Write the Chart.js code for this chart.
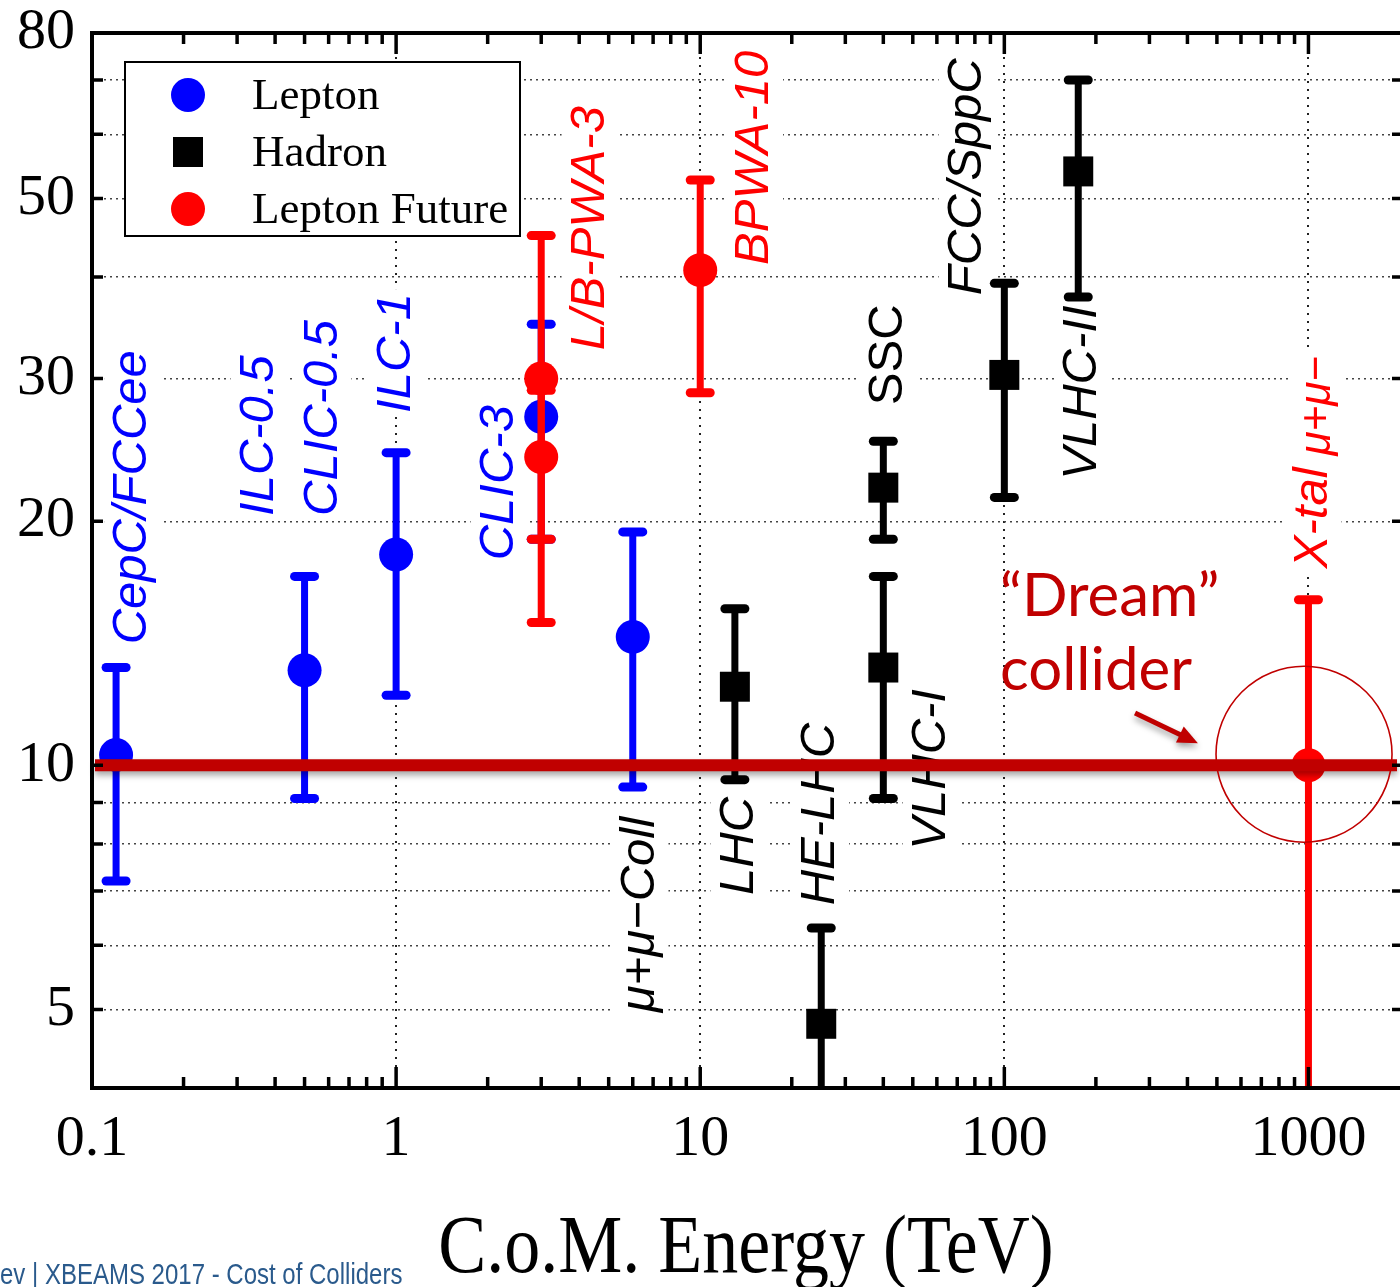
<!DOCTYPE html>
<html>
<head>
<meta charset="utf-8">
<title>Cost of colliders</title>
<script src="https://cdn.jsdelivr.net/npm/chart.js@4.4.0/dist/chart.umd.min.js"></script>
<style>
  html, body { margin: 0; padding: 0; background: #fff; }
  canvas { display: block; }
</style>
</head>
<body>
<canvas id="costChart" width="1400" height="1287"></canvas>
<script>
// Lepton colliders (blue circles): energy (TeV), centre value, upper / lower end of the bar
const leptonE  = [0.12, 0.5, 1, 3, 6];
const leptonC  = [10.3, 13.1, 18.2, 26.9, 14.4];
const leptonHi = [13.2, 17.1, 24.3, 35, 19.4];
const leptonLo = [7.2, 9.1, 12.2, 19, 9.4];

// Hadron colliders (black squares): LHC, HE-LHC, SSC, VLHC-I, FCC/SppC, VLHC-II
const hadronE  = [13, 25, 40, 40, 100, 175];
const hadronC  = [12.5, 4.8, 22, 13.2, 30.3, 54];
const hadronHi = [15.6, 6.3, 25.1, 17.1, 39.3, 70];
const hadronLo = [9.6, 3.5, 19, 9.1, 21.4, 37.8];

// Future lepton colliders (red circles): L/B-PWA-3 (two), BPWA-10, X-tal
const futureE  = [3, 3, 10, 1000];
const futureC  = [30, 24, 40.8, 10];
const futureHi = [45, 29, 52.7, 16];
const futureLo = [19, 15, 28.8, 3];

// Axis ticks
const xTickValues = [0.1, 1, 10, 100, 1000];
const xTickLabels = ['0.1', '1', '10', '100', '1000'];
const yTickValues = [5, 6, 7, 8, 9, 10, 20, 30, 40, 50, 60, 70, 80];
const yLabelValues = [5, 10, 20, 30, 50, 80];
const minorSteps = [2, 3, 4, 5, 6, 7, 8, 9];

// Vertical tags: text, anchor energy, anchor value (start of the text), colour, italic
const tags = [
    { text: 'CepC/FCCee', e: 0.136, c: 14.1, color: '#0000ff', italic: true },
    { text: 'ILC-0.5', e: 0.354, c: 20.3, color: '#0000ff', italic: true },
    { text: 'CLIC-0.5', e: 0.575, c: 20.3, color: '#0000ff', italic: true },
    { text: 'ILC-1', e: 1.0, c: 27.2, color: '#0000ff', italic: true },
    { text: 'CLIC-3', e: 2.18, c: 17.9, color: '#0000ff', italic: true },
    { text: 'L/B-PWA-3', e: 4.34, c: 32.5, color: '#ff0000', italic: true },
    { text: 'BPWA-10', e: 15.1, c: 41.4, color: '#ff0000', italic: true },
    { text: 'μ+μ−Coll', e: 6.34, c: 4.96, color: '#000000', italic: true },
    { text: 'LHC', e: 13.4, c: 6.92, color: '#000000', italic: true },
    { text: 'HE-LHC', e: 24.9, c: 6.72, color: '#000000', italic: true },
    { text: 'SSC', e: 41.5, c: 27.8, color: '#000000', italic: false },
    { text: 'VLHC-I', e: 57.4, c: 7.87, color: '#000000', italic: true },
    { text: 'FCC/SppC', e: 75.4, c: 38.0, color: '#000000', italic: true },
    { text: 'VLHC-II', e: 181, c: 22.5, color: '#000000', italic: true },
    { text: 'X-tal', e: 1036, c: 17.5, color: '#ff0000', italic: true },
    { text: 'μ+μ−', e: 1070, c: 24.1, color: '#ff0000', italic: true, size: 44 }
];

// "Dream" collider annotation
const dreamLevel = 10;
const dreamColor = '#c00000';
const ringCentre = { e: 967, c: 10.32 };
const arrowFrom = { e: 269, c: 11.6 };
const arrowTo = { e: 433, c: 10.65 };
const dreamText = [
    { text: '\u201cDream\u201d', e: 96.8, c: 15.3 },
    { text: 'collider', e: 96.8, c: 12.38 }
];

const blue = '#0000ff';
const black = '#000000';
const red = '#ff0000';

const errHi = [leptonHi, hadronHi, futureHi];
const errLo = [leptonLo, hadronLo, futureLo];
const errX = [leptonE, hadronE, futureE];
const errColor = [blue, black, red];

function pts(xs, ys) {
    return xs.map((x, i) => ({ x: x, y: ys[i] }));
}

// no automatic label overflow padding, the plot box is fixed
function noPad(s) {
    s.paddingTop = 0;
    s.paddingBottom = 0;
    s.paddingLeft = 0;
    s.paddingRight = 0;
}

// Error bars, drawn under each dataset's own markers
const errorBars = {
    id: 'errorBars',
    beforeDatasetDraw(chart, args) {
        const i = args.index;
        const ctx = chart.ctx;
        const a = chart.chartArea;
        const sx = chart.scales.x, sy = chart.scales.y;
        ctx.save();
        ctx.beginPath();
        ctx.rect(a.left, a.top, a.right - a.left, a.bottom - a.top);
        ctx.clip();
        ctx.strokeStyle = errColor[i];
        errX[i].forEach((e, k) => {
            const x = sx.getPixelForValue(e);
            const yh = sy.getPixelForValue(errHi[i][k]);
            const yl = sy.getPixelForValue(errLo[i][k]);
            ctx.lineWidth = 7;
            ctx.lineCap = 'butt';
            ctx.beginPath();
            ctx.moveTo(x, yh);
            ctx.lineTo(x, yl);
            ctx.stroke();
            ctx.lineWidth = 9;
            ctx.lineCap = 'round';
            [yh, yl].forEach(y => {
                ctx.beginPath();
                ctx.moveTo(x - 10, y);
                ctx.lineTo(x + 10, y);
                ctx.stroke();
            });
        });
        ctx.restore();
    }
};

// Rotated tags with a white box that hides the grid behind them
const tagPlugin = {
    id: 'tagPlugin',
    beforeDatasetsDraw(chart) {
        const ctx = chart.ctx;
        const sx = chart.scales.x, sy = chart.scales.y;
        tags.forEach(t => {
            const size = t.size || 49;
            ctx.save();
            ctx.translate(sx.getPixelForValue(t.e), sy.getPixelForValue(t.c));
            ctx.rotate(-Math.PI / 2);
            ctx.font = (t.italic ? 'italic ' : '') + size + 'px "Liberation Sans"';
            ctx.textAlign = 'left';
            ctx.textBaseline = 'middle';
            const w = ctx.measureText(t.text).width;
            ctx.fillStyle = '#ffffff';
            ctx.fillRect(-4, -size * 0.58, w + 8, size * 1.16);
            ctx.fillStyle = t.color;
            ctx.fillText(t.text, 0, 0);
            ctx.restore();
        });
    }
};

// The 10 level line, ring and arrow
const dreamPlugin = {
    id: 'dreamPlugin',
    afterDatasetsDraw(chart) {
        const ctx = chart.ctx;
        const a = chart.chartArea;
        const sx = chart.scales.x, sy = chart.scales.y;
        const y10 = sy.getPixelForValue(dreamLevel);

        ctx.save();
        ctx.shadowColor = 'rgba(0,0,0,0.35)';
        ctx.shadowBlur = 6;
        ctx.shadowOffsetY = 4;
        ctx.strokeStyle = dreamColor;
        ctx.lineWidth = 12;
        ctx.beginPath();
        ctx.moveTo(a.left + 3, y10);
        ctx.lineTo(a.right - 3, y10);
        ctx.stroke();

        // arrow
        const x0 = sx.getPixelForValue(arrowFrom.e), y0 = sy.getPixelForValue(arrowFrom.c);
        const x1 = sx.getPixelForValue(arrowTo.e), y1 = sy.getPixelForValue(arrowTo.c);
        const ang = Math.atan2(y1 - y0, x1 - x0);
        const head = 20;
        ctx.lineWidth = 5;
        ctx.beginPath();
        ctx.moveTo(x0, y0);
        ctx.lineTo(x1 - head * 0.8 * Math.cos(ang), y1 - head * 0.8 * Math.sin(ang));
        ctx.stroke();
        ctx.fillStyle = dreamColor;
        ctx.beginPath();
        ctx.moveTo(x1, y1);
        ctx.lineTo(x1 - head * Math.cos(ang) + 9 * Math.sin(ang), y1 - head * Math.sin(ang) - 9 * Math.cos(ang));
        ctx.lineTo(x1 - head * Math.cos(ang) - 9 * Math.sin(ang), y1 - head * Math.sin(ang) + 9 * Math.cos(ang));
        ctx.closePath();
        ctx.fill();
        ctx.restore();

        // ring
        ctx.save();
        ctx.strokeStyle = dreamColor;
        ctx.lineWidth = 1.6;
        ctx.beginPath();
        ctx.arc(sx.getPixelForValue(ringCentre.e), sy.getPixelForValue(ringCentre.c), 88, 0, Math.PI * 2);
        ctx.stroke();

        // "Dream" collider
        ctx.fillStyle = dreamColor;
        ctx.font = '60px Lato';
        ctx.textAlign = 'left';
        ctx.textBaseline = 'alphabetic';
        dreamText.forEach(d => {
            ctx.fillText(d.text, sx.getPixelForValue(d.e), sy.getPixelForValue(d.c));
        });
        ctx.restore();
    }
};

// Frame, inward ticks, legend, axis title, footer
const framePlugin = {
    id: 'framePlugin',
    afterDraw(chart) {
        const ctx = chart.ctx;
        const a = chart.chartArea;
        const sx = chart.scales.x, sy = chart.scales.y;
        ctx.save();
        ctx.strokeStyle = '#000';
        ctx.lineCap = 'square';
        ctx.lineWidth = 4;
        ctx.beginPath();
        ctx.moveTo(a.left, a.bottom);
        ctx.lineTo(a.left, a.top);
        ctx.lineTo(a.right + 4, a.top);
        ctx.moveTo(a.left, a.bottom);
        ctx.lineTo(a.right + 4, a.bottom);
        ctx.stroke();

        ctx.lineCap = 'butt';
        ctx.lineWidth = 3.5;
        ctx.beginPath();
        xTickValues.forEach(d => {
            const x = sx.getPixelForValue(d);
            if (d > 0.1) {
                ctx.moveTo(x, a.bottom); ctx.lineTo(x, a.bottom - 21);
                ctx.moveTo(x, a.top); ctx.lineTo(x, a.top + 21);
            }
            minorSteps.forEach(m => {
                const v = d * m;
                if (v >= 2000) return;
                const xm = sx.getPixelForValue(v);
                ctx.moveTo(xm, a.bottom); ctx.lineTo(xm, a.bottom - 11);
                ctx.moveTo(xm, a.top); ctx.lineTo(xm, a.top + 11);
            });
        });
        yTickValues.forEach(v => {
            if (v >= 80) return;
            const y = sy.getPixelForValue(v);
            ctx.moveTo(a.left, y); ctx.lineTo(a.left + 11, y);
            ctx.moveTo(a.right, y); ctx.lineTo(a.right - 8, y);
        });
        ctx.stroke();

        // legend
        const bx = a.left + 33, by = a.top + 29, bw = 395, bh = 174;
        ctx.fillStyle = '#fff';
        ctx.fillRect(bx, by, bw, bh);
        ctx.lineWidth = 2;
        ctx.strokeRect(bx, by, bw, bh);
        const entries = [
            { label: 'Lepton', color: blue, style: 'circle' },
            { label: 'Hadron', color: black, style: 'rect' },
            { label: 'Lepton Future', color: red, style: 'circle' }
        ];
        ctx.font = '45px "Liberation Serif"';
        ctx.textBaseline = 'middle';
        ctx.textAlign = 'left';
        entries.forEach((en, i) => {
            const cy = by + 33 + i * 57;
            const cx = bx + 63;
            ctx.fillStyle = en.color;
            if (en.style === 'circle') {
                ctx.beginPath();
                ctx.arc(cx, cy, 17, 0, Math.PI * 2);
                ctx.fill();
            } else {
                ctx.fillRect(cx - 15, cy - 15, 30, 30);
            }
            ctx.fillStyle = '#000';
            ctx.fillText(en.label, bx + 127, cy + 2);
        });

        // x axis title
        ctx.save();
        ctx.translate((a.left + a.right) / 2, 1272);
        ctx.scale(1, 1.15);
        ctx.font = '72px "Liberation Serif"';
        ctx.textAlign = 'center';
        ctx.textBaseline = 'alphabetic';
        ctx.fillStyle = '#000';
        ctx.fillText('C.o.M. Energy (TeV)', 0, 0);
        ctx.restore();

        // footer (cut at the left edge, as on the slide)
        ctx.save();
        ctx.translate(0, 1284);
        ctx.scale(1, 1.25);
        ctx.font = '24px "Liberation Sans"';
        ctx.textAlign = 'left';
        ctx.textBaseline = 'alphabetic';
        ctx.fillStyle = '#2a5a8c';
        ctx.fillText('ev | XBEAMS 2017 - Cost of Colliders', 0, 0);
        ctx.restore();
        ctx.restore();
    }
};

const ctx = document.getElementById('costChart').getContext('2d');
new Chart(ctx, {
    type: 'scatter',
    data: {
        datasets: [
            {
                label: 'Lepton',
                data: pts(leptonE, leptonC),
                pointStyle: 'circle',
                pointRadius: 17,
                pointBackgroundColor: blue,
                pointBorderWidth: 0,
                order: 3
            },
            {
                label: 'Hadron',
                data: pts(hadronE, hadronC),
                pointStyle: 'rect',
                pointRadius: 21.2,
                pointBackgroundColor: black,
                pointBorderWidth: 0,
                order: 2
            },
            {
                label: 'Lepton Future',
                data: pts(futureE, futureC),
                pointStyle: 'circle',
                pointRadius: 17,
                pointBackgroundColor: red,
                pointBorderWidth: 0,
                order: 1
            }
        ]
    },
    options: {
        responsive: false,
        animation: false,
        events: [],
        layout: { autoPadding: false, padding: { top: 33, left: 0, right: 0, bottom: 0 } },
        plugins: {
            legend: { display: false },
            tooltip: { enabled: false },
            title: { display: false }
        },
        scales: {
            x: {
                type: 'logarithmic',
                position: 'bottom',
                min: 0.1,
                max: 2000,
                afterBuildTicks: s => { s.ticks = xTickValues.map(v => ({ value: v })); },
                afterFit: s => { s.height = 199; noPad(s); },
                grid: { color: '#222', lineWidth: 2, drawTicks: false },
                border: { display: false, dash: [2, 6] },
                ticks: {
                    color: '#000',
                    font: { family: 'Liberation Serif', size: 58 },
                    padding: 17,
                    maxRotation: 0,
                    autoSkip: false,
                    callback: (v) => {
                        const k = xTickValues.indexOf(v);
                        return k >= 0 ? xTickLabels[k] : '';
                    }
                }
            },
            y: {
                type: 'logarithmic',
                position: 'left',
                min: 4,
                max: 80,
                afterBuildTicks: s => { s.ticks = yTickValues.map(v => ({ value: v })); },
                afterFit: s => { s.width = 92; noPad(s); },
                grid: { color: '#444', lineWidth: 1.4, drawTicks: false },
                border: { display: false, dash: [2, 4] },
                ticks: {
                    color: '#000',
                    font: { family: 'Liberation Serif', size: 58 },
                    padding: 17,
                    autoSkip: false,
                    callback: (v) => yLabelValues.includes(v) ? String(v) : ''
                }
            }
        }
    },
    plugins: [tagPlugin, errorBars, dreamPlugin, framePlugin]
});
</script>
</body>
</html>
